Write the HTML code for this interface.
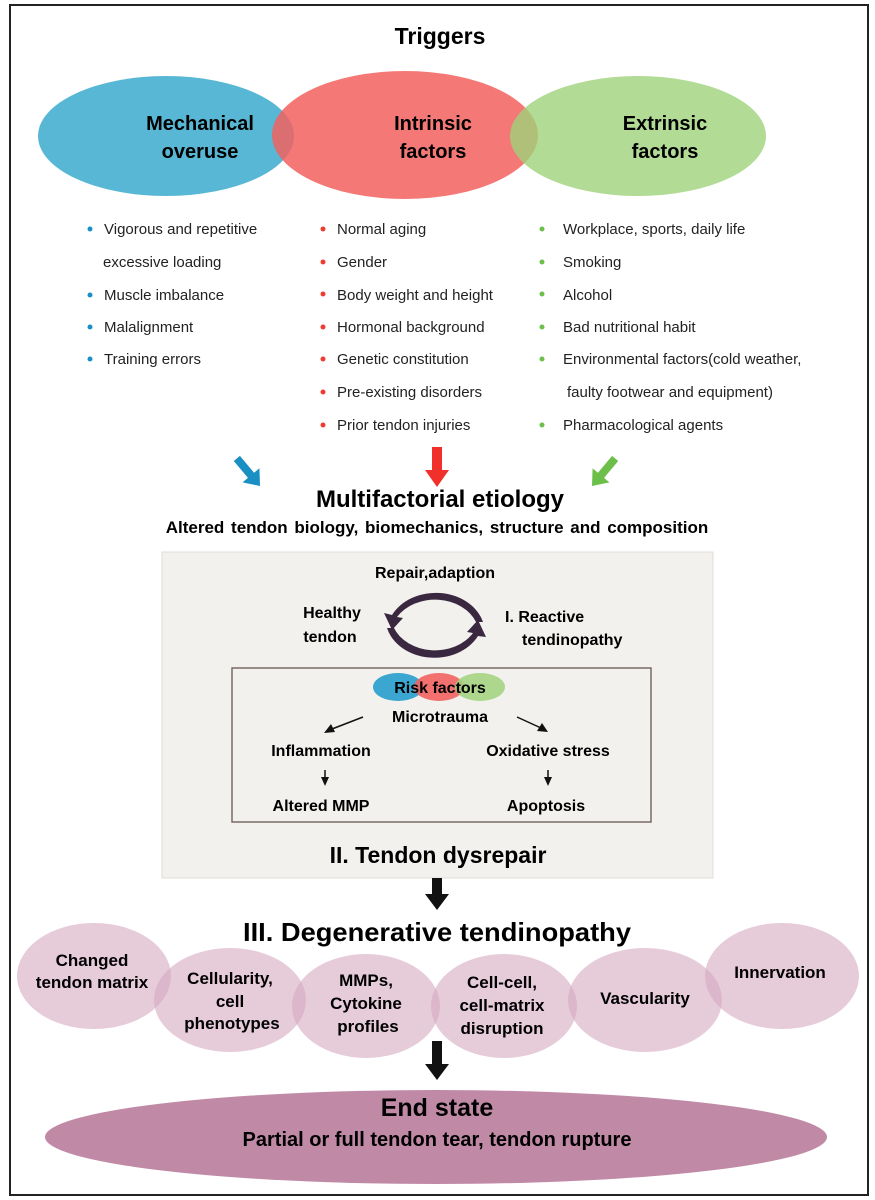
<!DOCTYPE html>
<html><head><meta charset="utf-8"><style>
html,body{margin:0;padding:0;background:#fff}
svg{display:block}
text{font-family:"Liberation Sans",Arial,sans-serif}
.b{font-weight:bold}
.n{font-family:"Liberation Sans Narrow","Liberation Sans",sans-serif;font-weight:bold}
</style></head><body>
<svg width="875" height="1200" viewBox="0 0 875 1200" xmlns="http://www.w3.org/2000/svg">
<rect x="0" y="0" width="875" height="1200" fill="#fff"/>
<rect x="10" y="5" width="858" height="1190" fill="none" stroke="#222" stroke-width="2"/>
<text x="440" y="44" text-anchor="middle" class="b" font-size="23">Triggers</text>
<ellipse cx="166" cy="136" rx="128" ry="60" fill="#4fb3d3" fill-opacity="0.95"/>
<ellipse cx="405" cy="135" rx="133" ry="64" fill="#f2625e" fill-opacity="0.85"/>
<ellipse cx="638" cy="136" rx="128" ry="60" fill="#9fd27a" fill-opacity="0.8"/>
<text x="200" y="130" text-anchor="middle" class="b" font-size="20">Mechanical</text>
<text x="200" y="158" text-anchor="middle" class="b" font-size="20">overuse</text>
<text x="433" y="130" text-anchor="middle" class="b" font-size="20">Intrinsic</text>
<text x="433" y="158" text-anchor="middle" class="b" font-size="20">factors</text>
<text x="665" y="130" text-anchor="middle" class="b" font-size="20">Extrinsic</text>
<text x="665" y="158" text-anchor="middle" class="b" font-size="20">factors</text>
<g font-size="15" fill="#222">
<g fill="#1a8fc4"><circle cx="90" cy="229" r="2.5"/><circle cx="90" cy="295" r="2.5"/><circle cx="90" cy="327" r="2.5"/><circle cx="90" cy="359" r="2.5"/></g>
<text x="104" y="234">Vigorous and repetitive</text>
<text x="103" y="267">excessive loading</text>
<text x="104" y="300">Muscle imbalance</text>
<text x="104" y="332">Malalignment</text>
<text x="104" y="364">Training errors</text>
<g fill="#ee3b32"><circle cx="323" cy="229" r="2.5"/><circle cx="323" cy="262" r="2.5"/><circle cx="323" cy="294" r="2.5"/><circle cx="323" cy="327" r="2.5"/><circle cx="323" cy="359" r="2.5"/><circle cx="323" cy="392" r="2.5"/><circle cx="323" cy="425" r="2.5"/></g>
<text x="337" y="234">Normal aging</text>
<text x="337" y="267">Gender</text>
<text x="337" y="300">Body weight and height</text>
<text x="337" y="332">Hormonal background</text>
<text x="337" y="364">Genetic constitution</text>
<text x="337" y="397">Pre-existing disorders</text>
<text x="337" y="430">Prior tendon injuries</text>
<g fill="#6cc04a"><circle cx="542" cy="229" r="2.5"/><circle cx="542" cy="262" r="2.5"/><circle cx="542" cy="294" r="2.5"/><circle cx="542" cy="327" r="2.5"/><circle cx="542" cy="359" r="2.5"/><circle cx="542" cy="425" r="2.5"/></g>
<text x="563" y="234">Workplace, sports, daily life</text>
<text x="563" y="267">Smoking</text>
<text x="563" y="300">Alcohol</text>
<text x="563" y="332">Bad nutritional habit</text>
<text x="563" y="364">Environmental factors(cold weather,</text>
<text x="567" y="397">faulty footwear and equipment)</text>
<text x="563" y="430">Pharmacological agents</text>
</g>
<g transform="translate(260,486) rotate(-40)"><polygon points="0,0 -11,-14 -4,-14 -4,-36 4,-36 4,-14 11,-14" fill="#1a8fc4"/></g>
<polygon points="437,487 425,470 432,470 432,447 442,447 442,470 449,470" fill="#f2302b"/>
<g transform="translate(592,486) rotate(40)"><polygon points="0,0 -11,-14 -4,-14 -4,-36 4,-36 4,-14 11,-14" fill="#6cc04a"/></g>
<text x="440" y="507" text-anchor="middle" class="b" font-size="24">Multifactorial etiology</text>
<text x="437" y="533" text-anchor="middle" class="b" font-size="17" word-spacing="2">Altered tendon biology, biomechanics,  structure and composition</text>
<rect x="162" y="552" width="551" height="326" fill="#f3f1ee" stroke="#e0ddd8"/>
<text x="435" y="578" text-anchor="middle" class="b" font-size="16">Repair,adaption</text>
<text x="332" y="618" text-anchor="middle" class="b" font-size="16">Healthy</text>
<text x="330" y="642" text-anchor="middle" class="b" font-size="16">tendon</text>
<text x="505" y="622" class="b" font-size="16">I. Reactive</text>
<text x="522" y="645" class="b" font-size="16">tendinopathy</text>
<g fill="#3a2840">
<path d="M483,622 A49,40 0 0 0 392,615 L384,613 L392,630 L403,618 L397,617 A44,35 0 0 1 476,622 Z"/>
<path d="M387,628 A49,40 0 0 0 478,636 L486,637 L478,620 L467,632 L473,633 A44,35 0 0 1 394,628 Z"/>
</g>
<rect x="232" y="668" width="419" height="154" fill="none" stroke="#7a6a66" stroke-width="1.5"/>
<ellipse cx="398" cy="687" rx="25" ry="14" fill="#3ba6d0"/>
<ellipse cx="439" cy="687" rx="25" ry="14" fill="#f2625e" fill-opacity="0.9"/>
<ellipse cx="480" cy="687" rx="25" ry="14" fill="#9fd27a" fill-opacity="0.85"/>
<text x="440" y="693" text-anchor="middle" class="b" font-size="16">Risk factors</text>
<text x="440" y="722" text-anchor="middle" class="b" font-size="16">Microtrauma</text>
<g stroke="#111" stroke-width="1.5"><line x1="363" y1="717" x2="332" y2="729"/><line x1="517" y1="717" x2="541" y2="728"/><line x1="325" y1="770" x2="325" y2="778"/><line x1="548" y1="770" x2="548" y2="778"/></g>
<polygon points="324,733 331,724 335,732" fill="#111"/>
<polygon points="548,732 537,731 542,723" fill="#111"/>
<polygon points="321,777 329,777 325,786" fill="#111"/>
<polygon points="544,777 552,777 548,786" fill="#111"/>
<text x="321" y="756" text-anchor="middle" class="b" font-size="16">Inflammation</text>
<text x="548" y="756" text-anchor="middle" class="b" font-size="16">Oxidative stress</text>
<text x="321" y="811" text-anchor="middle" class="b" font-size="16">Altered MMP</text>
<text x="546" y="811" text-anchor="middle" class="b" font-size="16">Apoptosis</text>
<text x="438" y="863" text-anchor="middle" class="b" font-size="23">II. Tendon dysrepair</text>
<polygon points="437,910 425,894 432,894 432,878 442,878 442,894 449,894" fill="#111"/>
<text x="243" y="941" class="n" font-size="26" textLength="388" lengthAdjust="spacingAndGlyphs">III. Degenerative tendinopathy</text>
<g fill="#d6a8c0" fill-opacity="0.6">
<ellipse cx="94" cy="976" rx="77" ry="53"/>
<ellipse cx="230" cy="1000" rx="76" ry="52"/>
<ellipse cx="366" cy="1006" rx="74" ry="52"/>
<ellipse cx="504" cy="1006" rx="73" ry="52"/>
<ellipse cx="645" cy="1000" rx="77" ry="52"/>
<ellipse cx="782" cy="976" rx="77" ry="53"/>
</g>
<g class="n" font-size="17" text-anchor="middle">
<text x="92" y="966">Changed</text><text x="92" y="988">tendon matrix</text>
<text x="230" y="984">Cellularity,</text><text x="230" y="1007">cell</text><text x="232" y="1029">phenotypes</text>
<text x="366" y="986">MMPs,</text><text x="366" y="1009">Cytokine</text><text x="368" y="1032">profiles</text>
<text x="502" y="988">Cell-cell,</text><text x="502" y="1011">cell-matrix</text><text x="502" y="1034">disruption</text>
<text x="645" y="1004">Vascularity</text>
<text x="780" y="978">Innervation</text>
</g>
<polygon points="437,1080 425,1064 432,1064 432,1041 442,1041 442,1064 449,1064" fill="#111"/>
<ellipse cx="436" cy="1137" rx="391" ry="47" fill="#c08aa6"/>
<text x="437" y="1116" text-anchor="middle" class="n" font-size="25">End state</text>
<text x="437" y="1146" text-anchor="middle" class="n" font-size="20">Partial or full tendon tear, tendon rupture</text>
</svg>
</body></html>
